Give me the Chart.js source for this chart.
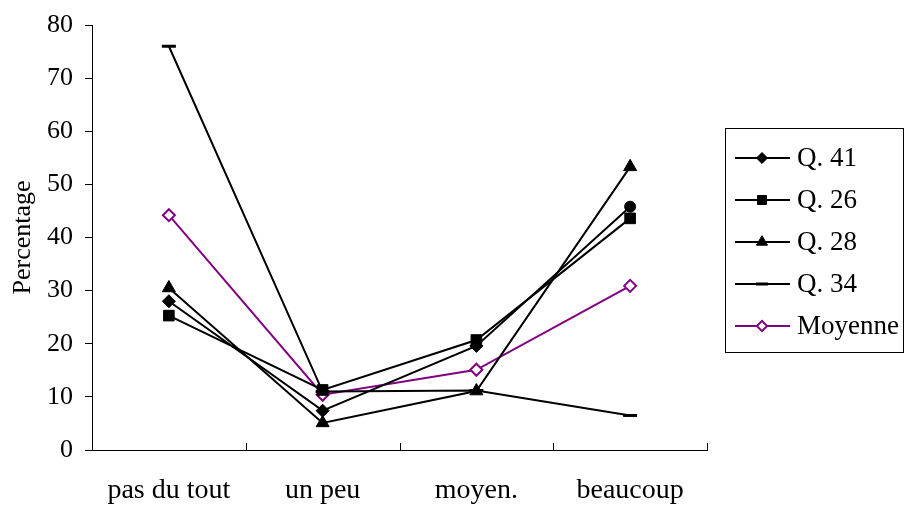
<!DOCTYPE html>
<html>
<head>
<meta charset="utf-8">
<script src="https://cdn.jsdelivr.net/npm/chart.js@4/dist/chart.umd.min.js"></script>
<style>
  body { margin: 0; background: #fff; }
  #wrap { width: 904px; height: 507px; }
</style>
</head>
<body>
<div id="wrap"><canvas id="chart" width="904" height="507"></canvas></div>
<script>
// categories and values
const categories = ['pas du tout', 'un peu', 'moyen.', 'beaucoup'];
const q41 = [28.0, 7.4, 19.6, 45.8];
const q26 = [25.3, 11.3, 20.7, 43.6];
const q28 = [30.5, 5.1, 11.1, 53.3];
const q34 = [76.0, 11.0, 11.2, 6.5];
const moyenne = [44.2, 10.4, 15.1, 30.9];
const yTicks = [0, 10, 20, 30, 40, 50, 60, 70, 80];

const FONT = "'Liberation Serif', 'Times New Roman', serif";
const PURPLE = '#800080';

function series(label, values, style, color, opts) {
    return Object.assign({
        label: label,
        data: values,
        borderColor: color,
        backgroundColor: color,
        borderWidth: 2,
        pointStyle: style,
        pointRadius: 6,
        pointBorderWidth: 1,
        pointBackgroundColor: color,
        pointBorderColor: color,
        fill: false,
        tension: 0
    }, opts || {});
}

const datasets = [
    series('Q. 41', q41, ['rectRot', 'rectRot', 'rectRot', 'circle'], '#000', { pointRadius: [6.5, 6.5, 6.5, 5.5] }),
    series('Q. 26', q26, 'rect', '#000', { pointRadius: 7.5 }),
    series('Q. 28', q28, 'triangle', '#000', { pointRadius: 7.5 }),
    series('Q. 34', q34, 'line', '#000', { pointRadius: 7, pointBorderWidth: 3 }),
    series('Moyenne', moyenne, 'rectRot', PURPLE, { pointRadius: 6, pointBorderWidth: 2, pointBackgroundColor: '#fff', borderWidth: 2 })
];

// x tick marks pointing up into the plot, between categories
const xTickMarks = {
    id: 'xTickMarks',
    afterDraw(chart) {
        const ctx = chart.ctx;
        const x = chart.scales.x;
        const area = chart.chartArea;
        ctx.save();
        ctx.strokeStyle = '#000';
        ctx.lineWidth = 1;
        for (let i = 1; i <= categories.length; i++) {
            let px;
            if (i < categories.length) px = (x.getPixelForValue(i - 1) + x.getPixelForValue(i)) / 2;
            else px = area.right;
            px = Math.round(px) + 0.5;
            ctx.beginPath();
            ctx.moveTo(px, area.bottom);
            ctx.lineTo(px, area.bottom - 7);
            ctx.stroke();
        }
        ctx.restore();
    }
};

// boxed legend on the right
const boxLegend = {
    id: 'boxLegend',
    afterDraw(chart) {
        const ctx = chart.ctx;
        ctx.save();
        ctx.strokeStyle = '#000';
        ctx.lineWidth = 1;
        ctx.strokeRect(725.5, 128.5, 178, 224);
        ctx.font = '27px ' + FONT;
        ctx.textBaseline = 'middle';
        ctx.fillStyle = '#000';
        chart.data.datasets.forEach(function (ds, i) {
            const y = 158 + i * 42;
            ctx.strokeStyle = ds.borderColor;
            ctx.lineWidth = ds.borderWidth;
            ctx.beginPath();
            ctx.moveTo(735, y);
            ctx.lineTo(790, y);
            ctx.stroke();
            const style = Array.isArray(ds.pointStyle) ? ds.pointStyle[0] : ds.pointStyle;
            let r = Array.isArray(ds.pointRadius) ? ds.pointRadius[0] : ds.pointRadius;
            r = r * 0.85;
            ctx.fillStyle = ds.pointBackgroundColor;
            ctx.strokeStyle = ds.pointBorderColor;
            ctx.lineWidth = ds.pointBorderWidth;
            Chart.helpers.drawPoint(ctx, { pointStyle: style, rotation: 0, radius: r, borderWidth: ds.pointBorderWidth }, 762, y);
            ctx.fillStyle = '#000';
            ctx.fillText(ds.label, 797, y + 1);
        });
        ctx.restore();
    }
};

new Chart(document.getElementById('chart'), {
    type: 'line',
    data: { labels: categories, datasets: datasets },
    options: {
        responsive: false,
        animation: false,
        layout: { padding: { left: 0, top: 25, right: 197, bottom: 0 } },
        plugins: {
            legend: { display: false },
            tooltip: { enabled: false }
        },
        scales: {
            x: {
                offset: true,
                grid: { display: false, drawTicks: false },
                border: { display: true, color: '#000', width: 1 },
                ticks: { color: '#000', font: { family: FONT, size: 28 }, padding: 24, maxRotation: 0 },
                afterFit(s) { s.height = 57; }
            },
            y: {
                min: 0,
                max: 80,
                afterBuildTicks(s) { s.ticks = yTicks.map(v => ({ value: v })); },
                grid: { drawOnChartArea: false, drawTicks: true, tickLength: 7, color: '#000' },
                border: { display: true, color: '#000', width: 1 },
                ticks: { color: '#000', font: { family: FONT, size: 26 }, padding: 12 },
                title: { display: true, text: 'Percentage', color: '#000', font: { family: FONT, size: 26 }, padding: { top: 8, bottom: 0 } },
                afterFit(s) { s.width = 92; s.paddingTop = 0; s.paddingBottom = 0; }
            }
        }
    },
    plugins: [xTickMarks, boxLegend]
});
</script>
</body>
</html>
